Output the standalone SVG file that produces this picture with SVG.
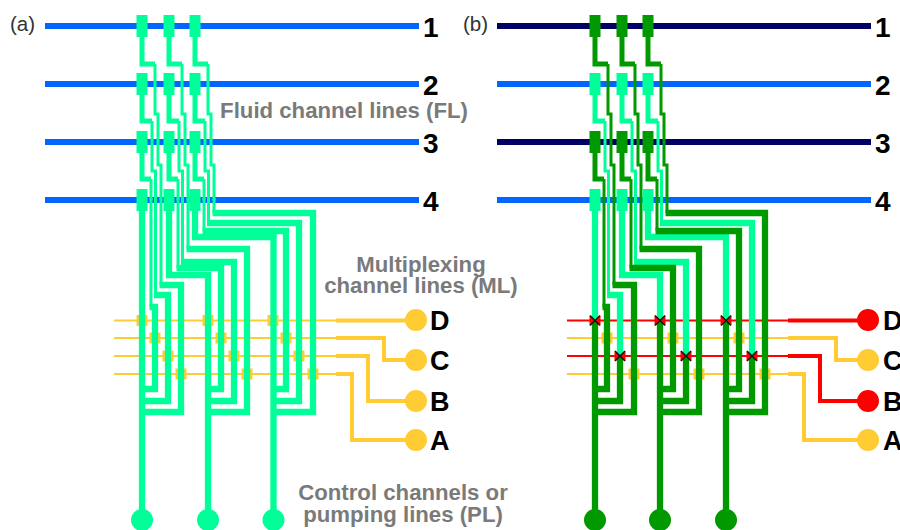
<svg xmlns="http://www.w3.org/2000/svg" width="900" height="530" viewBox="0 0 900 530">
<style>
text{font-family:"Liberation Sans",Arial,sans-serif}
.lab{font-size:20.500px;fill:#333}
.num{font-size:28px;font-weight:700;fill:#000}
.let{font-size:27px;font-weight:700;fill:#000}
.cap{font-size:22.200px;font-weight:700;fill:#7a7a7a;text-anchor:middle}
.blue{stroke:#0066ff;stroke-width:6;fill:none}
.navy{stroke:#000066;stroke-width:6;fill:none}
.y{stroke:#ffcc33;fill:none}
.r{stroke:#ff0000;fill:none}
.t{stroke-width:2}
.k{stroke-width:4}
.lg{stroke:#00ff99;fill:none}
.dg{stroke:#009900;fill:none}
.w3{stroke-width:3}
.w6{stroke-width:6.300}
.fl{fill:#00ff99}
.fd{fill:#009900}
.fy{fill:#ffcc33}
.fr{fill:#ff0000}
.x{stroke:#111;stroke-width:1.500;fill:none}
</style>
<defs>
<rect id="padv" x="-5.500" y="-5.500" width="11" height="11"/>
<rect id="valve" x="-5.500" y="-11" width="11" height="22"/>
<g id="xv"><path class="fr" d="M-5.500-5 0 0-5.500 5zM5.500-5 0 0 5.500 5z"/><path class="x" d="M-5-5 5 5M-5 5 5-5"/></g>
<g id="r1"><path stroke-width="5" d="M0 37V64H13"/><path class="w3" d="M13 64V114H16V165H19V200"/></g>
<g id="r2"><path stroke-width="5" d="M0 95V121H10"/><path class="w3" d="M10 121V171H13.500V200"/></g>
<g id="r3"><path stroke-width="5" d="M0 153V179H9"/><path class="w3" d="M9 179V200"/></g>
</defs>

<g id="panel-a-label"><text class="lab" x="10" y="31">(a)</text></g>
<g id="panel-b-label"><text class="lab" x="463" y="31">(b)</text></g>

<g id="fluid-lines-a">
<path class="blue" d="M45 26H419M45 84H419M45 142H419M45 200H419"/>
</g>
<g id="fluid-lines-b">
<path class="navy" d="M497 26H871"/><path class="blue" d="M497 84H871"/><path class="navy" d="M497 142H871"/><path class="blue" d="M497 200H871"/>
</g>

<g id="control-lines-a">
<path class="y t" d="M114 320.500H336M114 338H336M114 356H336M114 374H336"/>
<path class="y k" d="M336 320.500H415M336 338H384V360H415M336 356H368V401H415M336 374H352V440H415"/>
<g class="fy">
<use href="#padv" x="142" y="320.500"/><use href="#padv" x="208" y="320.500"/><use href="#padv" x="273" y="320.500"/>
<use href="#padv" x="155" y="338"/><use href="#padv" x="221" y="338"/><use href="#padv" x="286" y="338"/>
<use href="#padv" x="168" y="356"/><use href="#padv" x="234" y="356"/><use href="#padv" x="299" y="356"/>
<use href="#padv" x="181" y="374"/><use href="#padv" x="247" y="374"/><use href="#padv" x="313" y="374"/>
</g>
</g>
<g id="control-lines-b">
<path class="r t" d="M567 320.500H788M567 356H788"/>
<path class="y t" d="M567 338H788M567 374H788"/>
<path class="r k" d="M788 320.500H867M788 356H820V401H867"/>
<path class="y k" d="M788 338H836V360H867M788 374H804V440H867"/>
<g class="fy">
<use href="#padv" x="607" y="338"/><use href="#padv" x="673" y="338"/><use href="#padv" x="739" y="338"/>
<use href="#padv" x="634" y="374"/><use href="#padv" x="699" y="374"/><use href="#padv" x="765" y="374"/>
</g>
</g>

<g id="connectors">
<g id="channels-a" class="lg">
<use href="#r1" x="142"/><use href="#r1" x="169"/><use href="#r1" x="195"/>
<use href="#r2" x="142"/><use href="#r2" x="169"/><use href="#r2" x="195"/>
<use href="#r3" x="142"/><use href="#r3" x="169"/><use href="#r3" x="195"/>
<path class="w3" d="M161 198V285M155.500 198V295M151 198V307M188 198V249M182.500 198V262M178 198V268M214 198V213M208.500 198V223M204 198V231"/>
<g class="w6">
<path d="M142 211V510"/>
<path d="M169 211V275H208V510"/>
<path d="M195 211V237H273.500V510"/>
<path d="M159.500 285H181V412H142"/>
<path d="M154 295H168V401H142"/>
<path d="M149.500 307H155V389H142"/>
<path d="M186.500 249H247V412H208"/>
<path d="M181 262H234V401H208"/>
<path d="M176.500 268H221V389H208"/>
<path d="M212.500 213H313V412H273"/>
<path d="M207 223H299V401H273"/>
<path d="M202.500 231H286V389H273"/>
</g>
</g>
<g id="channels-b">
<g class="dg"><use href="#r1" x="595"/><use href="#r1" x="622"/><use href="#r1" x="648"/><use href="#r3" x="595"/><use href="#r3" x="622"/><use href="#r3" x="648"/>
<path class="w3" d="M614 198V285M604 198V307M641 198V249M631 198V268M667 198V213M657 198V231"/></g>
<g class="lg"><use href="#r2" x="595"/><use href="#r2" x="622"/><use href="#r2" x="648"/>
<path class="w3" d="M608.500 198V295M635.500 198V262M661.500 198V223"/></g>
<g class="lg w6">
<path d="M595 211V320"/>
<path d="M622 211V275H660V320"/>
<path d="M648 211V237H726V320"/>
<path d="M607 295H620V356"/>
<path d="M634 262H686V356"/>
<path d="M660 223H752V356"/>
</g>
<g class="dg w6">
<path d="M595 320V510"/><path d="M660 320V510"/><path d="M726 320V510"/>
<path d="M620 356V401H595"/><path d="M686 356V401H660"/><path d="M752 356V401H726"/>
<path d="M612.500 285H634V412H595"/>
<path d="M602.500 307H607V389H595"/>
<path d="M639.500 249H699V412H660"/>
<path d="M629.500 268H673V389H660"/>
<path d="M665.500 213H765V412H726"/>
<path d="M655.500 231H739V389H726"/>
</g>
</g>
</g>

<g id="xvalves-b">
<use href="#xv" x="595" y="320.500"/><use href="#xv" x="660" y="320.500"/><use href="#xv" x="726" y="320.500"/>
<use href="#xv" x="620" y="356"/><use href="#xv" x="686" y="356"/><use href="#xv" x="752" y="356"/>
</g>

<g id="valves-a" class="fl">
<use href="#valve" x="142" y="26"/><use href="#valve" x="169" y="26"/><use href="#valve" x="195" y="26"/>
<use href="#valve" x="142" y="84"/><use href="#valve" x="169" y="84"/><use href="#valve" x="195" y="84"/>
<use href="#valve" x="142" y="142"/><use href="#valve" x="169" y="142"/><use href="#valve" x="195" y="142"/>
<use href="#valve" x="142" y="200"/><use href="#valve" x="169" y="200"/><use href="#valve" x="195" y="200"/>
</g>
<g id="valves-b">
<g class="fd"><use href="#valve" x="595" y="26"/><use href="#valve" x="622" y="26"/><use href="#valve" x="648" y="26"/>
<use href="#valve" x="595" y="142"/><use href="#valve" x="622" y="142"/><use href="#valve" x="648" y="142"/></g>
<g class="fl"><use href="#valve" x="595" y="84"/><use href="#valve" x="622" y="84"/><use href="#valve" x="648" y="84"/>
<use href="#valve" x="595" y="200"/><use href="#valve" x="622" y="200"/><use href="#valve" x="648" y="200"/></g>
</g>

<g id="ports-a">
<circle class="fy" cx="416" cy="320" r="11"/><circle class="fy" cx="416" cy="360" r="11"/><circle class="fy" cx="416" cy="401" r="11"/><circle class="fy" cx="416" cy="440" r="11"/>
<circle class="fl" cx="142" cy="520" r="11"/><circle class="fl" cx="208" cy="520" r="11"/><circle class="fl" cx="273.500" cy="520" r="11"/>
</g>
<g id="ports-b">
<circle class="fr" cx="868" cy="320" r="11"/><circle class="fy" cx="868" cy="360" r="11"/><circle class="fr" cx="868" cy="401" r="11"/><circle class="fy" cx="868" cy="440" r="11"/>
<circle class="fd" cx="595" cy="520" r="11"/><circle class="fd" cx="660" cy="520" r="11"/><circle class="fd" cx="726" cy="520" r="11"/>
</g>

<g id="labels">
<text class="num" x="423" y="37">1</text><text class="num" x="423" y="95">2</text><text class="num" x="423" y="153">3</text><text class="num" x="423" y="211">4</text>
<text class="num" x="875" y="37">1</text><text class="num" x="875" y="95">2</text><text class="num" x="875" y="153">3</text><text class="num" x="875" y="211">4</text>
<text class="let" x="430" y="330">D</text><text class="let" x="430" y="370">C</text><text class="let" x="430" y="411">B</text><text class="let" x="430" y="450">A</text>
<text class="let" x="883" y="330">D</text><text class="let" x="883" y="370">C</text><text class="let" x="883" y="411">B</text><text class="let" x="883" y="450">A</text>
<text class="cap" x="344" y="118">Fluid channel lines (FL)</text>
<text class="cap" x="421" y="272">Multiplexing</text>
<text class="cap" x="421" y="293">channel lines (ML)</text>
<text class="cap" x="403" y="500">Control channels or</text>
<text class="cap" x="403" y="522">pumping lines (PL)</text>
</g>
</svg>
